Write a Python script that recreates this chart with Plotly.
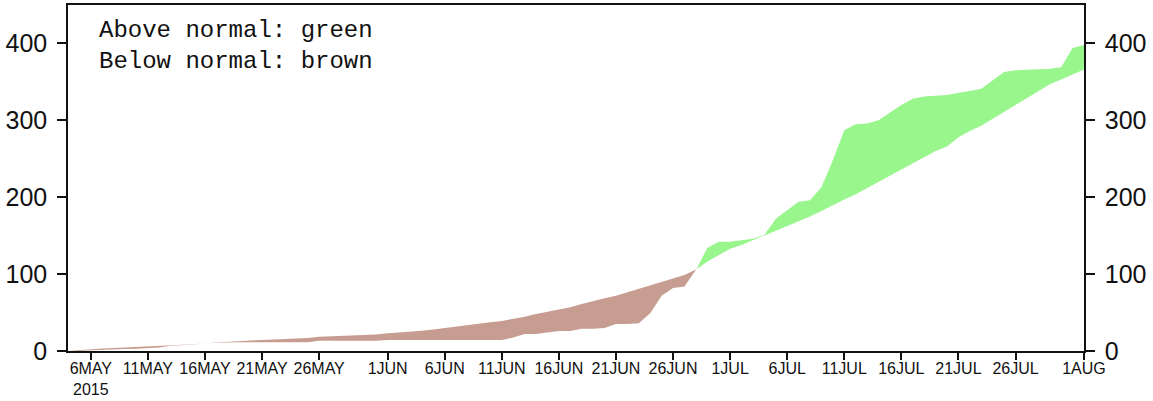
import numpy as np
import pandas as pd
import plotly.graph_objects as go

# Daily series, 4 May 2015 .. 1 Aug 2015 (cumulative rainfall, mm)
start_date = "2015-05-04"
day_offset = list(range(90))

observed = [
    0.0, 0.0, 1.0, 1.2, 1.4, 2.5, 2.8, 3.5, 4.5, 6.8,
    7.4, 8.4, 10.0, 11.0, 11.2, 11.3, 11.3, 11.3, 11.3, 11.3,
    11.3, 11.3, 13.3, 13.3, 13.3, 13.3, 13.3, 13.3, 14.3, 14.3,
    14.3, 14.3, 14.3, 14.3, 14.3, 14.3, 14.3, 14.3, 14.3, 17.6,
    22.0, 22.0, 24.0, 26.0, 26.0, 29.0, 29.0, 30.0, 35.0, 35.0,
    36.0, 49.0, 72.0, 82.0, 84.0, 105.0, 134.0, 142.0, 142.0, 144.5,
    146.0, 151.0, 172.0, 183.0, 194.0, 196.0, 213.0, 248.0, 287.0, 295.0,
    296.0, 300.0, 310.0, 320.0, 328.0, 331.0, 332.0, 333.0, 336.0, 338.0,
    341.0, 352.0, 363.0, 365.0, 366.0, 366.5, 367.0, 369.0, 394.0, 398.0,
]

normal = [
    0.0, 1.3, 2.6, 3.2, 3.8, 4.4, 5.0, 5.6, 6.4, 7.2,
    8.0, 8.7, 10.0, 11.0, 12.5, 13.5, 13.8, 14.2, 14.8, 15.6,
    16.3, 17.0, 18.5, 19.0, 19.5, 20.0, 20.6, 21.5, 23.0, 24.0,
    25.0, 26.3, 28.0, 30.0, 32.0, 34.0, 36.0, 37.5, 39.0, 41.5,
    44.5, 48.0, 51.0, 54.0, 57.0, 61.0, 65.0, 68.5, 72.0, 76.5,
    81.0, 86.0, 91.0, 95.0, 99.0, 106.0, 116.0, 125.0, 133.0, 138.0,
    144.0, 150.0, 156.0, 162.0, 168.0, 175.0, 182.0, 190.0, 197.0, 204.0,
    212.0, 220.0, 228.0, 237.0, 245.0, 252.0, 260.0, 266.0, 278.0, 286.0,
    293.0, 302.0, 311.0, 319.0, 328.0, 337.0, 347.0, 353.0, 359.0, 366.0,
]

tick_dates = [
    "2015-05-06", "2015-05-11", "2015-05-16", "2015-05-21", "2015-05-26",
    "2015-06-01", "2015-06-06", "2015-06-11", "2015-06-16", "2015-06-21",
    "2015-06-26", "2015-07-01", "2015-07-06", "2015-07-11", "2015-07-16",
    "2015-07-21", "2015-07-26", "2015-08-01",
]
tick_labels = [
    "6MAY<br>2015", "11MAY", "16MAY", "21MAY", "26MAY",
    "1JUN", "6JUN", "11JUN", "16JUN", "21JUN",
    "26JUN", "1JUL", "6JUL", "11JUL", "16JUL",
    "21JUL", "26JUL", "1AUG",
]
y_ticks = [0, 100, 200, 300, 400]
key_text = "Above normal: green<br>Below normal: brown"

BROWN = "#C79D91"
GREEN = "#98F68C"
AXIS = "#111111"


def with_crossings(t, a, b):
    """Insert the points where series a and b cross so fills switch cleanly."""
    ts, av, bv = [t[0]], [a[0]], [b[0]]
    for i in range(len(t) - 1):
        d0 = a[i] - b[i]
        d1 = a[i + 1] - b[i + 1]
        if d0 * d1 < 0:
            f = d0 / (d0 - d1)
            v = a[i] + f * (a[i + 1] - a[i])
            ts.append(t[i] + f * (t[i + 1] - t[i]))
            av.append(v)
            bv.append(v)
        ts.append(t[i + 1])
        av.append(a[i + 1])
        bv.append(b[i + 1])
    return np.array(ts, float), np.array(av, float), np.array(bv, float)


t, obs, nrm = with_crossings(day_offset, observed, normal)
x = pd.Timestamp(start_date) + pd.to_timedelta(t, unit="D")

below = np.minimum(obs, nrm)
above = np.maximum(obs, nrm)

fig = go.Figure()
line0 = dict(width=0)
fig.add_trace(go.Scatter(x=x, y=below, mode="lines", line=line0,
                         hoverinfo="skip", showlegend=False))
fig.add_trace(go.Scatter(x=x, y=nrm, mode="lines", line=line0, fill="tonexty",
                         fillcolor=BROWN, hoverinfo="skip", showlegend=False))
fig.add_trace(go.Scatter(x=x, y=nrm, mode="lines", line=line0,
                         hoverinfo="skip", showlegend=False))
fig.add_trace(go.Scatter(x=x, y=above, mode="lines", line=line0, fill="tonexty",
                         fillcolor=GREEN, hoverinfo="skip", showlegend=False))
# placeholder so the left-hand axis gets drawn
fig.add_trace(go.Scatter(x=[x[0]], y=[0], yaxis="y2", mode="markers",
                         marker=dict(opacity=0), hoverinfo="skip", showlegend=False))

yaxis_common = dict(
    range=[0, 450], tickvals=y_ticks, ticktext=[str(v) for v in y_ticks],
    ticks="outside", ticklen=9, tickwidth=1.5, tickcolor=AXIS,
    showline=True, linewidth=1.5, linecolor=AXIS, showgrid=False, zeroline=False,
    tickfont=dict(family="Liberation Sans", size=25, color=AXIS),
    ticklabelstandoff=5, fixedrange=True,
)

fig.update_layout(
    width=1153, height=401,
    margin=dict(l=68, r=69, t=3, b=49),
    paper_bgcolor="white", plot_bgcolor="white",
    xaxis=dict(
        type="date", range=[start_date, "2015-08-01"],
        tickvals=tick_dates, ticktext=tick_labels,
        ticks="outside", ticklen=7, tickwidth=1.5, tickcolor=AXIS,
        showline=True, linewidth=1.5, linecolor=AXIS, mirror=True,
        showgrid=False, zeroline=False, ticklabelstandoff=-5,
        tickfont=dict(family="Liberation Sans", size=16, color=AXIS),
        tickangle=0,
    ),
    yaxis=dict(side="right", layer="below traces", **yaxis_common),
    yaxis2=dict(side="left", overlaying="y", **yaxis_common),
    annotations=[
        dict(text=key_text, xref="paper", yref="paper", align="left",
             x=0.0285, y=0.972, xanchor="left", yanchor="top", showarrow=False,
             font=dict(family="Liberation Mono", size=24, color=AXIS)),
    ],
)

fig.write_html("out.html")
